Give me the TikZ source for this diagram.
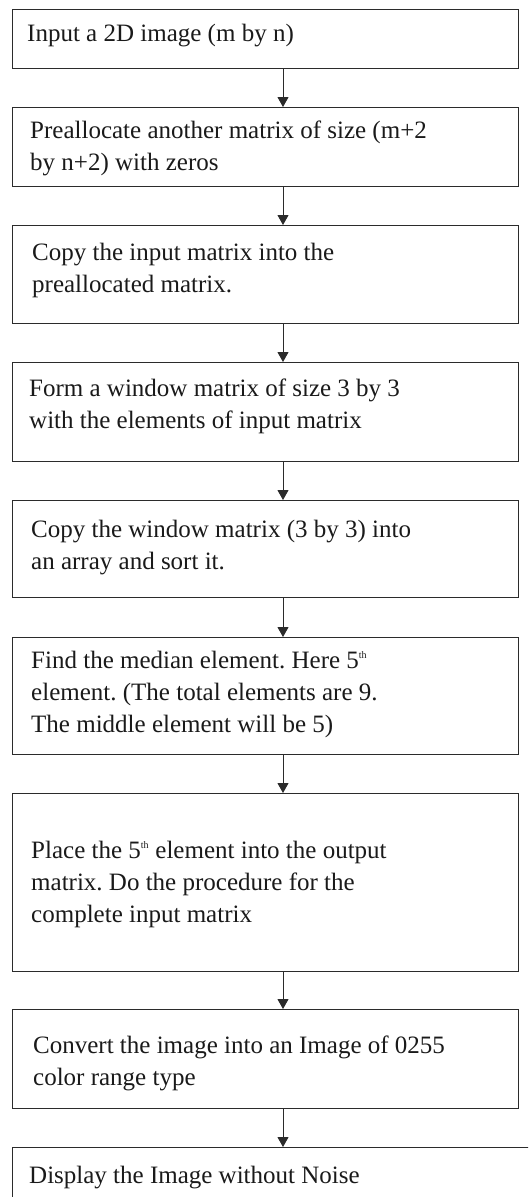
\documentclass[tikz,border=0pt]{standalone}
\usepackage{fontspec}
\setmainfont{Liberation Serif}
\usetikzlibrary{arrows.meta}
\definecolor{boxc}{HTML}{2B2B2B}
\definecolor{txtc}{HTML}{1A1A1A}
\newcommand{\thsup}{\textsuperscript{\fontsize{10}{10}\selectfont th}}
\begin{document}
\frenchspacing
\begin{tikzpicture}[x=1pt,y=-1pt,
  stepbox/.style={draw=boxc, line width=1.3pt, rectangle, inner sep=0pt, minimum width=506pt, anchor=north west},
  steptext/.style={anchor=base west, inner sep=0pt, font=\fontsize{25}{32}\selectfont\frenchspacing, text=txtc},
  arr/.style={draw=boxc, line width=1pt, -{Triangle[length=10pt,width=11pt]}}]
\useasboundingbox (0,0) rectangle (528,1197);
\clip (0,0) rectangle (528,1197);
\fill[white] (0,0) rectangle (528,1197);
\coordinate (ax) at (283,0);
% boxes
\node[stepbox, minimum height=59pt]  (b1) at (12,9) {};
\node[stepbox, minimum height=79pt]  (b2) at (12,107) {};
\node[stepbox, minimum height=98pt]  (b3) at (12,225) {};
\node[stepbox, minimum height=99pt]  (b4) at (12,362) {};
\node[stepbox, minimum height=97pt]  (b5) at (12,500) {};
\node[stepbox, minimum height=117pt] (b6) at (12,637) {};
\node[stepbox, minimum height=178pt] (b7) at (12,793) {};
\node[stepbox, minimum height=99pt]  (b8) at (12,1009) {};
\node[stepbox, minimum height=90pt, minimum width=540pt] (b9) at (12,1147) {};
% texts
\node[steptext] (t1) at (27,41) {Input a 2D image (m by n)};
\node[steptext] (t2) at (30,138) {\begin{tabular}[t]{@{}l@{}}Preallocate another matrix of size (m+2\\by n+2) with zeros\end{tabular}};
\node[steptext] (t3) at (32,260) {\begin{tabular}[t]{@{}l@{}}Copy the input matrix into the\\preallocated matrix.\end{tabular}};
\node[steptext] (t4) at (29,396) {\begin{tabular}[t]{@{}l@{}}Form a window matrix of size 3 by 3\\with the elements of input matrix\end{tabular}};
\node[steptext] (t5) at (31,537) {\begin{tabular}[t]{@{}l@{}}Copy the window matrix (3 by 3) into\\an array and sort it.\end{tabular}};
\node[steptext] (t6) at (31,668) {\begin{tabular}[t]{@{}l@{}}Find the median element. Here 5\thsup\\element. (The total elements are 9.\\The middle element will be 5)\end{tabular}};
\node[steptext] (t7) at (31,858) {\begin{tabular}[t]{@{}l@{}}Place the 5\thsup{} element into the output\\matrix. Do the procedure for the\\complete input matrix\end{tabular}};
\node[steptext] (t8) at (33,1053) {\begin{tabular}[t]{@{}l@{}}Convert the image into an Image of 0255\\color range type\end{tabular}};
\node[steptext] (t9) at (29,1183) {Display the Image without Noise};
% arrows
\draw[arr] (b1.south -| ax) -- (b2.north -| ax);
\draw[arr] (b2.south -| ax) -- (b3.north -| ax);
\draw[arr] (b3.south -| ax) -- (b4.north -| ax);
\draw[arr] (b4.south -| ax) -- (b5.north -| ax);
\draw[arr] (b5.south -| ax) -- (b6.north -| ax);
\draw[arr] (b6.south -| ax) -- (b7.north -| ax);
\draw[arr] (b7.south -| ax) -- (b8.north -| ax);
\draw[arr] (b8.south -| ax) -- (b9.north -| ax);
\end{tikzpicture}
\end{document}
